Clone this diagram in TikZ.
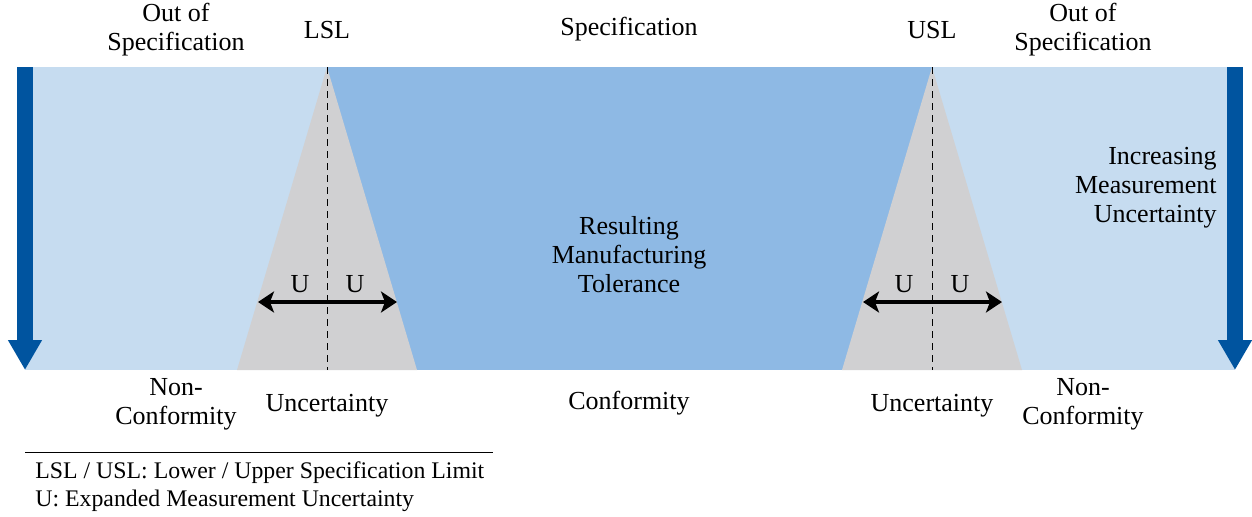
\documentclass[tikz,border=0pt]{standalone}
\usepackage{fontspec}
\setmainfont{Liberation Serif}
\usetikzlibrary{arrows.meta}

\definecolor{outblue}{RGB}{198,220,240}
\definecolor{specblue}{RGB}{142,185,228}
\definecolor{uncgray}{RGB}{208,208,210}
\definecolor{trendblue}{RGB}{0,84,159}

\tikzset{
  lbl/.style={inner sep=0pt, anchor=base, align=center, font=\fontsize{13}{14.3}\selectfont},
  note/.style={inner sep=0pt, anchor=base west, font=\fontsize{11.9}{14}\selectfont},
  limit/.style={dash pattern=on 3.5pt off 2.5pt, line width=0.4pt},
  utip/.tip={Stealth[length=8pt,width=10.5pt,inset=2pt]},
  uarrow/.style={utip-utip, line width=1.6pt},
  trend/.style={trendblue, line width=8pt, -{Triangle[length=15pt,width=16pt]}},
}

\begin{document}
\begin{tikzpicture}[x=0.5pt,y=-0.5pt]
  \useasboundingbox (0,0) rectangle (1252,516);

  % zones
  \fill[outblue] (25,67) rectangle (1235,370);
  \fill[specblue] (327,67) rectangle (932,370);
  \fill[uncgray] (327,67) -- (417,370) -- (237,370) -- cycle;
  \fill[uncgray] (932,67) -- (1022,370) -- (842,370) -- cycle;

  \coordinate (lsltop) at (327,67);
  \coordinate (lslbot) at (327,370);
  \coordinate (usltop) at (932,67);
  \coordinate (uslbot) at (932,370);
  \draw[limit] (lsltop) -- (lslbot);
  \draw[limit] (usltop) -- (uslbot);

  % increasing uncertainty
  \coordinate (ltrend1) at (25,67);
  \coordinate (ltrend2) at (25,370);
  \coordinate (rtrend1) at (1235,67);
  \coordinate (rtrend2) at (1235,370);
  \draw[trend] (ltrend1) -- (ltrend2);
  \draw[trend] (rtrend1) -- (rtrend2);

  % +/- U
  \coordinate (lu1) at (258,302);
  \coordinate (lu2) at (397,302);
  \coordinate (uu1) at (863,302);
  \coordinate (uu2) at (1002,302);
  \draw[uarrow] (lu1) -- (lu2);
  \draw[uarrow] (uu1) -- (uu2);
  \node[lbl] (lul) at (300,292) {U};
  \node[lbl] (lur) at (355,292) {U};
  \node[lbl] (uul) at (904,292) {U};
  \node[lbl] (uur) at (960,292) {U};

  % top labels (base = last line)
  \node[lbl] (outl) at (176,50) {Out of\\Specification};
  \node[lbl] (lsl) at (327,38) {LSL};
  \node[lbl] (spec) at (629,35) {Specification};
  \node[lbl] (usl) at (932,38) {USL};
  \node[lbl] (outr) at (1083,50) {Out of\\Specification};

  \node[lbl] (tol) at (629,292) {Resulting\\Manufacturing\\Tolerance};
  \node[lbl, anchor=base east, align=right] (incr) at (1217,222) {Increasing\\Measurement\\Uncertainty};

  % bottom labels
  \node[lbl] (nonl) at (176,424) {Non-\\Conformity};
  \node[lbl] (uncl) at (327,411) {Uncertainty};
  \node[lbl] (conf) at (629,409) {Conformity};
  \node[lbl] (uncr) at (932,411) {Uncertainty};
  \node[lbl] (nonr) at (1083,424) {Non-\\Conformity};

  % legend
  \coordinate (rule1) at (25,452);
  \coordinate (rule2) at (493,452);
  \draw[line width=0.5pt] (rule1) -- (rule2);
  \node[note] (abbr1) at (35,478) {LSL / USL: Lower / Upper Specification Limit};
  \node[note] (abbr2) at (35,506) {U: Expanded Measurement Uncertainty};
\end{tikzpicture}
\end{document}
